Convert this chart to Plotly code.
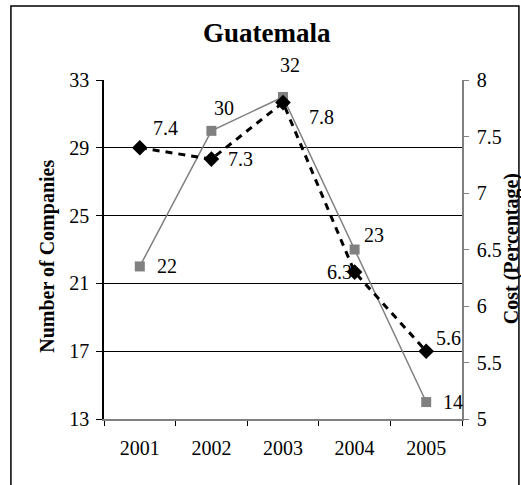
import plotly.graph_objects as go

years = ["2001", "2002", "2003", "2004", "2005"]
companies = [22, 30, 32, 23, 14]
cost = [7.4, 7.3, 7.8, 6.3, 5.6]

# label offsets in pixels (x, y) relative to each marker
company_label_shift = [(27, 0), (13, 23), (7, 32), (19, 15), (27, 0)]
cost_label_shift = [(26, 20), (29, 0), (38, -14), (-15, 0), (22, 13)]

FONT = "Liberation Serif, Times New Roman, serif"
GRAY = "#808080"

fig = go.Figure()

fig.add_trace(
    go.Scatter(
        x=years,
        y=companies,
        mode="lines+markers",
        name="Number of Companies",
        line=dict(color=GRAY, width=1.5),
        marker=dict(color=GRAY, size=10, symbol="square"),
        cliponaxis=False,
    )
)

fig.add_trace(
    go.Scatter(
        x=years,
        y=cost,
        yaxis="y2",
        mode="lines+markers",
        name="Cost (Percentage)",
        line=dict(color="black", width=3, dash="7px,6px"),
        marker=dict(color="black", size=12, symbol="diamond"),
        cliponaxis=False,
    )
)

# data labels (category axes place annotations by category index)
for i, val in enumerate(companies):
    dx, dy = company_label_shift[i]
    fig.add_annotation(
        x=i, y=val, xref="x", yref="y", text=str(val), showarrow=False,
        xshift=dx, yshift=dy, font=dict(family=FONT, size=20, color="black"),
    )
for i, val in enumerate(cost):
    dx, dy = cost_label_shift[i]
    fig.add_annotation(
        x=i, y=val, xref="x", yref="y2", text=str(val), showarrow=False,
        xshift=dx, yshift=dy, font=dict(family=FONT, size=20, color="black"),
    )

# titles
fig.add_annotation(
    text="<b>Guatemala</b>", xref="paper", yref="paper", x=0.455, y=1.139,
    xanchor="center", yanchor="middle", showarrow=False,
    font=dict(family=FONT, size=27, color="black"),
)
fig.add_annotation(
    text="<b>Number of Companies</b>", xref="paper", yref="paper", x=-0.157, y=0.481,
    xanchor="center", yanchor="middle", textangle=-90, showarrow=False,
    font=dict(family=FONT, size=20, color="black"),
)
fig.add_annotation(
    text="<b>Cost (Percentage)</b>", xref="paper", yref="paper", x=1.137, y=0.501,
    xanchor="center", yanchor="middle", textangle=-90, showarrow=False,
    font=dict(family=FONT, size=20, color="black"),
)

# outer chart border
fig.add_shape(
    type="rect", xref="paper", yref="paper",
    x0=-0.26, x1=1.159, y0=-0.25, y1=1.218,
    line=dict(color="black", width=1.5),
)

fig.update_layout(
    width=521,
    height=485,
    margin=dict(l=104, r=59, t=80, b=66),
    paper_bgcolor="white",
    plot_bgcolor="white",
    showlegend=False,
    font=dict(family=FONT, size=20, color="black"),
    xaxis=dict(
        type="category",
        categoryorder="array",
        categoryarray=years,
        range=[-0.5, 4.5],
        tickson="boundaries",
        ticks="outside",
        ticklen=5,
        tickcolor="black",
        ticklabelstandoff=10,
        showline=True,
        linecolor=GRAY,
        linewidth=1.5,
        showgrid=False,
        automargin=False,
        tickfont=dict(family=FONT, size=20),
    ),
    xaxis2=dict(
        type="category",
        categoryorder="array",
        categoryarray=years,
        overlaying="x",
        matches="x",
        anchor="y",
        side="bottom",
        tickson="boundaries",
        ticks="inside",
        ticklen=5,
        tickcolor="black",
        showticklabels=False,
        showgrid=False,
        showline=False,
    ),
    yaxis=dict(
        range=[13, 33],
        dtick=4,
        tick0=13,
        ticks="outside",
        ticklen=6,
        tickcolor="black",
        ticklabelstandoff=3,
        showline=True,
        linecolor="black",
        linewidth=1.5,
        showgrid=True,
        gridcolor="black",
        gridwidth=1,
        zeroline=False,
        automargin=False,
        tickfont=dict(family=FONT, size=20),
    ),
    yaxis2=dict(
        overlaying="y",
        side="right",
        range=[5, 8],
        dtick=0.5,
        ticks="outside",
        ticklen=5,
        tickcolor=GRAY,
        ticklabelstandoff=4,
        showline=True,
        linecolor=GRAY,
        linewidth=1.5,
        showgrid=False,
        zeroline=False,
        automargin=False,
        tickfont=dict(family=FONT, size=20),
    ),
    yaxis3=dict(
        overlaying="y",
        side="right",
        anchor="x",
        range=[5, 8],
        dtick=0.5,
        ticks="inside",
        ticklen=5,
        tickcolor=GRAY,
        showticklabels=False,
        showline=False,
        showgrid=False,
        zeroline=False,
    ),
)

# drop the default page margin so the figure fills the window
fig.write_html(
    "out.html",
    config={"displayModeBar": False},
    post_script="document.body.style.margin='0';",
)
